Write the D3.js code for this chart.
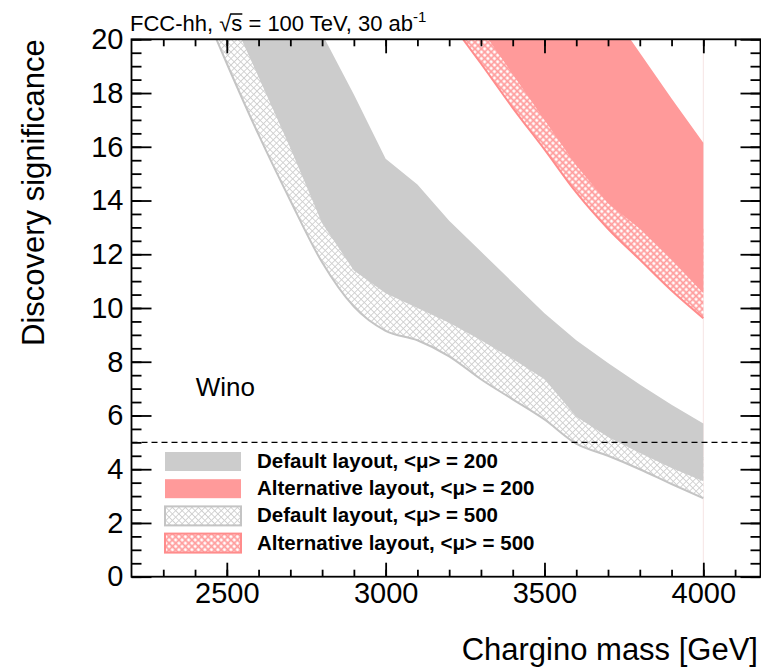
<!DOCTYPE html>
<html>
<head>
<meta charset="utf-8">
<title>Wino discovery significance</title>
<script src="https://d3js.org/d3.v7.min.js"></script>
<style>
  body { margin: 0; background: #fff; }
  text { font-family: "Liberation Sans", Arial, Helvetica, sans-serif; }
</style>
</head>
<body>
<div id="chart"></div>
<script>
// chargino mass points [GeV]
var masses = [2400, 2500, 2600, 2700, 2800, 2900, 3000, 3100, 3200, 3300, 3400, 3500, 3600, 3700, 3800, 3900, 4000];

// default layout, <mu> = 200 (solid grey)
var defaultMu200Low  = [24.0, 21.2, 18.6, 15.95, 13.15, 11.4, 10.55, 10.0, 9.45, 8.8, 8.1, 7.35, 5.95, 5.2, 4.6, 4.05, 3.55];
var defaultMu200High = [31.0, 28.0, 25.0, 22.4, 20.2, 17.95, 15.55, 14.6, 13.25, 12.1, 10.95, 9.8, 8.8, 7.95, 7.15, 6.4, 5.7];
// default layout, <mu> = 500 (grey hatch)
var defaultMu500Low  = [21.9, 19.1, 16.45, 14.0, 11.7, 10.05, 9.15, 8.8, 8.2, 7.35, 6.6, 5.85, 4.95, 4.5, 4.0, 3.45, 2.92];
var defaultMu500High = [26.0, 24.0, 21.0, 18.5, 15.5, 13.5, 12.0, 11.5, 10.8, 10.0, 9.3, 8.5, 7.3, 6.5, 5.8, 5.2, 4.5];
// alternative layout, <mu> = 200 (solid red)
var altMu200Low  = [null, null, null, null, null, null, null, null, null, 20.4, 18.7, 17.0, 15.3, 13.9, 12.95, 11.8, 10.55];
var altMu200High = [null, null, null, null, null, null, null, null, null, 27.5, 26.0, 24.5, 22.8, 21.2, 19.5, 17.8, 16.15];
// alternative layout, <mu> = 500 (red hatch)
var altMu500Low  = [null, null, null, null, null, null, null, null, 20.7, 19.1, 17.45, 15.9, 14.3, 12.95, 11.8, 10.65, 9.62];
var altMu500High = [null, null, null, null, null, null, null, null, 24.0, 23.0, 22.0, 20.5, 19.0, 17.5, 16.0, 14.5, 13.0];

var xMajorTicks = [2500, 3000, 3500, 4000];
var xMinorTicks = d3.range(2300, 4180, 100);
var yMajorTicks = [0, 2, 4, 6, 8, 10, 12, 14, 16, 18, 20];
var yMinorTicks = d3.range(0, 20.01, 0.5);

var legendLabels = ["Default layout, <\u03bc> = 200", "Alternative layout, <\u03bc> = 200",
                    "Default layout, <\u03bc> = 500", "Alternative layout, <\u03bc> = 500"];

var width = 761, height = 670;
var frame = {left: 131.5, right: 760.5, top: 39.3, bottom: 576.7};

var svg = d3.select("#chart").append("svg")
    .attr("width", width)
    .attr("height", height);

var x = d3.scaleLinear().domain([2200, 4180]).range([frame.left, frame.right]);
var y = d3.scaleLinear().domain([0, 20]).range([frame.bottom, frame.top]);

var defs = svg.append("defs");
defs.append("clipPath").attr("id", "plotclip")
  .append("rect")
    .attr("x", frame.left).attr("y", frame.top)
    .attr("width", frame.right - frame.left).attr("height", frame.bottom - frame.top);

// cross hatch patterns
function addHatch(id, color, sw) {
    var s = 4.6;
    var p = defs.append("pattern")
        .attr("id", id)
        .attr("patternUnits", "userSpaceOnUse")
        .attr("width", s).attr("height", s)
        .attr("patternTransform", "rotate(45)");
    p.append("rect").attr("width", s).attr("height", s).attr("fill", "#fff");
    p.append("path")
        .attr("d", "M0," + s / 2 + "H" + s + "M" + s / 2 + ",0V" + s)
        .attr("stroke", color)
        .attr("stroke-width", sw);
}
addHatch("hatchGrey", "#cfcfcf", 0.9);
addHatch("hatchRed", "#ff9c9c", 1.7);

var grey = "#cccccc", red = "#ff9a9a", greyLine = "#c4c4c4", redLine = "#ff8c8c";

function band(lo, hi) {
    return masses.map(function(m, i) { return {m: m, lo: lo[i], hi: hi[i]}; });
}
function makeArea(curve) {
    return d3.area()
        .defined(function(d) { return d.lo != null; })
        .curve(curve)
        .x(function(d) { return x(d.m); })
        .y0(function(d) { return y(d.lo); })
        .y1(function(d) { return y(d.hi); });
}
// solid bands keep their corners, hatched bands are smooth
var solidArea = makeArea(d3.curveLinear);
var hatchArea = makeArea(d3.curveMonotoneX);
var lowEdge = d3.line()
    .defined(function(d) { return d.lo != null; })
    .curve(d3.curveMonotoneX)
    .x(function(d) { return x(d.m); })
    .y(function(d) { return y(d.lo); });

var plot = svg.append("g").attr("clip-path", "url(#plotclip)");

// faint closing edge of the bands
plot.append("line")
    .attr("x1", x(4000)).attr("x2", x(4000))
    .attr("y1", y(0)).attr("y2", y(20))
    .attr("stroke", "#f6e4e4").attr("stroke-width", 1);

var g500 = band(defaultMu500Low, defaultMu500High);
plot.append("path").attr("d", hatchArea(g500)).attr("fill", "url(#hatchGrey)");
plot.append("path").attr("d", lowEdge(g500)).attr("fill", "none")
    .attr("stroke", greyLine).attr("stroke-width", 2);
plot.append("path").attr("d", solidArea(band(defaultMu200Low, defaultMu200High))).attr("fill", grey);

var r500 = band(altMu500Low, altMu500High);
plot.append("path").attr("d", hatchArea(r500)).attr("fill", "url(#hatchRed)");
plot.append("path").attr("d", lowEdge(r500)).attr("fill", "none")
    .attr("stroke", redLine).attr("stroke-width", 2);
plot.append("path").attr("d", solidArea(band(altMu200Low, altMu200High))).attr("fill", red);

// 5 sigma line
svg.append("line")
    .attr("x1", frame.left).attr("x2", frame.right)
    .attr("y1", y(5)).attr("y2", y(5))
    .attr("stroke", "#000").attr("stroke-width", 1.4)
    .attr("stroke-dasharray", "6,4");

// axes (ticks pointing inward)
function styleAxis(g) {
    g.select(".domain").remove();
    g.selectAll(".tick line").attr("stroke", "#000").attr("stroke-width", 1.8);
    g.selectAll("text").attr("font-size", "29px").attr("fill", "#000")
        .style("font-family", "'Liberation Sans', Arial, Helvetica, sans-serif");
}
svg.append("g").attr("transform", "translate(0," + frame.bottom + ")")
    .call(d3.axisBottom(x).tickValues(xMinorTicks).tickSize(-7).tickFormat(""))
    .call(styleAxis);
svg.append("g").attr("transform", "translate(0," + frame.bottom + ")")
    .call(d3.axisBottom(x).tickValues(xMajorTicks).tickSize(-14).tickPadding(6).tickFormat(d3.format("d")))
    .call(styleAxis);
svg.append("g").attr("transform", "translate(0," + frame.top + ")")
    .call(d3.axisTop(x).tickValues(xMinorTicks).tickSize(-7).tickFormat(""))
    .call(styleAxis);
svg.append("g").attr("transform", "translate(0," + frame.top + ")")
    .call(d3.axisTop(x).tickValues(xMajorTicks).tickSize(-14).tickFormat(""))
    .call(styleAxis);

svg.append("g").attr("transform", "translate(" + frame.left + ",0)")
    .call(d3.axisLeft(y).tickValues(yMinorTicks).tickSize(-10).tickFormat(""))
    .call(styleAxis);
svg.append("g").attr("transform", "translate(" + frame.left + ",0)")
    .call(d3.axisLeft(y).tickValues(yMajorTicks).tickSize(-20).tickPadding(8).tickFormat(d3.format("d")))
    .call(styleAxis);
svg.append("g").attr("transform", "translate(" + frame.right + ",0)")
    .call(d3.axisRight(y).tickValues(yMinorTicks).tickSize(-10).tickFormat(""))
    .call(styleAxis);
svg.append("g").attr("transform", "translate(" + frame.right + ",0)")
    .call(d3.axisRight(y).tickValues(yMajorTicks).tickSize(-20).tickFormat(""))
    .call(styleAxis);

// frame
svg.append("rect")
    .attr("x", frame.left).attr("y", frame.top)
    .attr("width", frame.right - frame.left).attr("height", frame.bottom - frame.top)
    .attr("fill", "none").attr("stroke", "#000").attr("stroke-width", 1.8);

// axis titles
svg.append("text")
    .attr("transform", "translate(44," + frame.top + ")rotate(-90)")
    .attr("text-anchor", "end")
    .attr("font-size", "31px")
    .text("Discovery significance");
svg.append("text")
    .attr("x", 758).attr("y", 660)
    .attr("text-anchor", "end")
    .attr("font-size", "31px")
    .text("Chargino mass [GeV]");

// header
var title = svg.append("text")
    .attr("x", 130).attr("y", 31)
    .attr("font-size", "22px");
title.append("tspan").text("FCC-hh, \u221as = 100 TeV, 30 ab");
title.append("tspan").attr("dy", -9).attr("font-size", "15px").text("-1");
// overline of the square root
var sIdx = "FCC-hh, \u221a".length;
var sBox = title.node().getExtentOfChar(sIdx);
svg.append("line")
    .attr("x1", sBox.x - 1).attr("x2", sBox.x + sBox.width)
    .attr("y1", 14).attr("y2", 14)
    .attr("stroke", "#000").attr("stroke-width", 1.5);

svg.append("text")
    .attr("x", 255).attr("y", 396)
    .attr("text-anchor", "end")
    .attr("font-size", "26px")
    .text("Wino");

// legend
var legFill = [grey, red, "url(#hatchGrey)", "url(#hatchRed)"];
var legStroke = ["none", "none", greyLine, redLine];
var leg = svg.append("g");
legendLabels.forEach(function(lab, i) {
    var cy = 461.5 + i * 27.2;
    leg.append("rect")
        .attr("x", 165).attr("y", cy - 9.5)
        .attr("width", 76).attr("height", 19)
        .attr("fill", legFill[i])
        .attr("stroke", legStroke[i]).attr("stroke-width", 2);
    leg.append("text")
        .attr("x", 257).attr("y", cy + 6.5)
        .attr("font-size", "20.5px")
        .attr("font-weight", "bold")
        .text(lab);
});
</script>
</body>
</html>
